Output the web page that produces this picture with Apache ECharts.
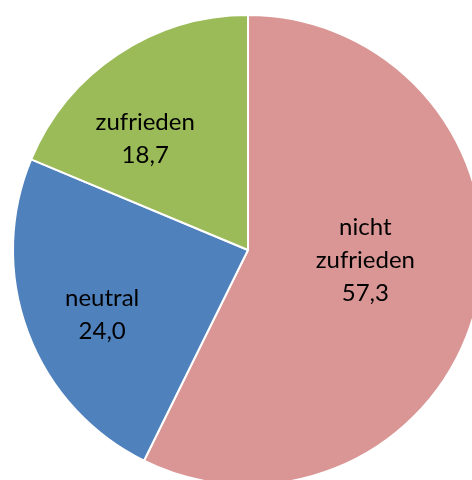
<!DOCTYPE html>
<html>
<head>
<meta charset="utf-8">
<script src="https://cdn.jsdelivr.net/npm/echarts@6/dist/echarts.min.js"></script>
<style>
  html, body { margin: 0; padding: 0; background: #fff; }
  #chart { width: 472px; height: 480px; }
</style>
</head>
<body>
<div id="chart"></div>
<script>
const categories = ['nicht zufrieden', 'neutral', 'zufrieden']
const values = [57.3, 24.0, 18.7]
const colors = ['#D99694', '#4F81BD', '#9BBB59']

// Excel puts the labels a bit off the slice middle
const labelShift = [
  [0, -17],
  [-33, 23],
  [-36, -11],
]

const myChart = echarts.init(document.getElementById('chart'), null, {
  renderer: 'canvas',
})

const option = {
  backgroundColor: '#fff',
  animation: false,
  series: [
    {
      type: 'pie',
      center: [248, 250],
      radius: 235,
      startAngle: 90,
      clockwise: true,
      itemStyle: {
        borderColor: '#fff',
        borderWidth: 2,
      },
      label: {
        show: true,
        position: 'inside',
        color: '#000',
        fontFamily: 'Lato',
        fontSize: 24,
        lineHeight: 33,
        formatter: (p) => {
          const name = p.name === 'nicht zufrieden' ? 'nicht\nzufrieden' : p.name
          return name + '\n' + p.value.toFixed(1).replace('.', ',')
        },
      },
      labelLine: { show: false },
      labelLayout: (params) => ({
        dx: labelShift[params.dataIndex][0],
        dy: labelShift[params.dataIndex][1],
      }),
      emphasis: { disabled: true },
      data: categories.map((c, i) => ({
        name: c,
        value: values[i],
        itemStyle: { color: colors[i] },
      })),
    },
  ],
}

option && myChart.setOption(option)
</script>
</body>
</html>
